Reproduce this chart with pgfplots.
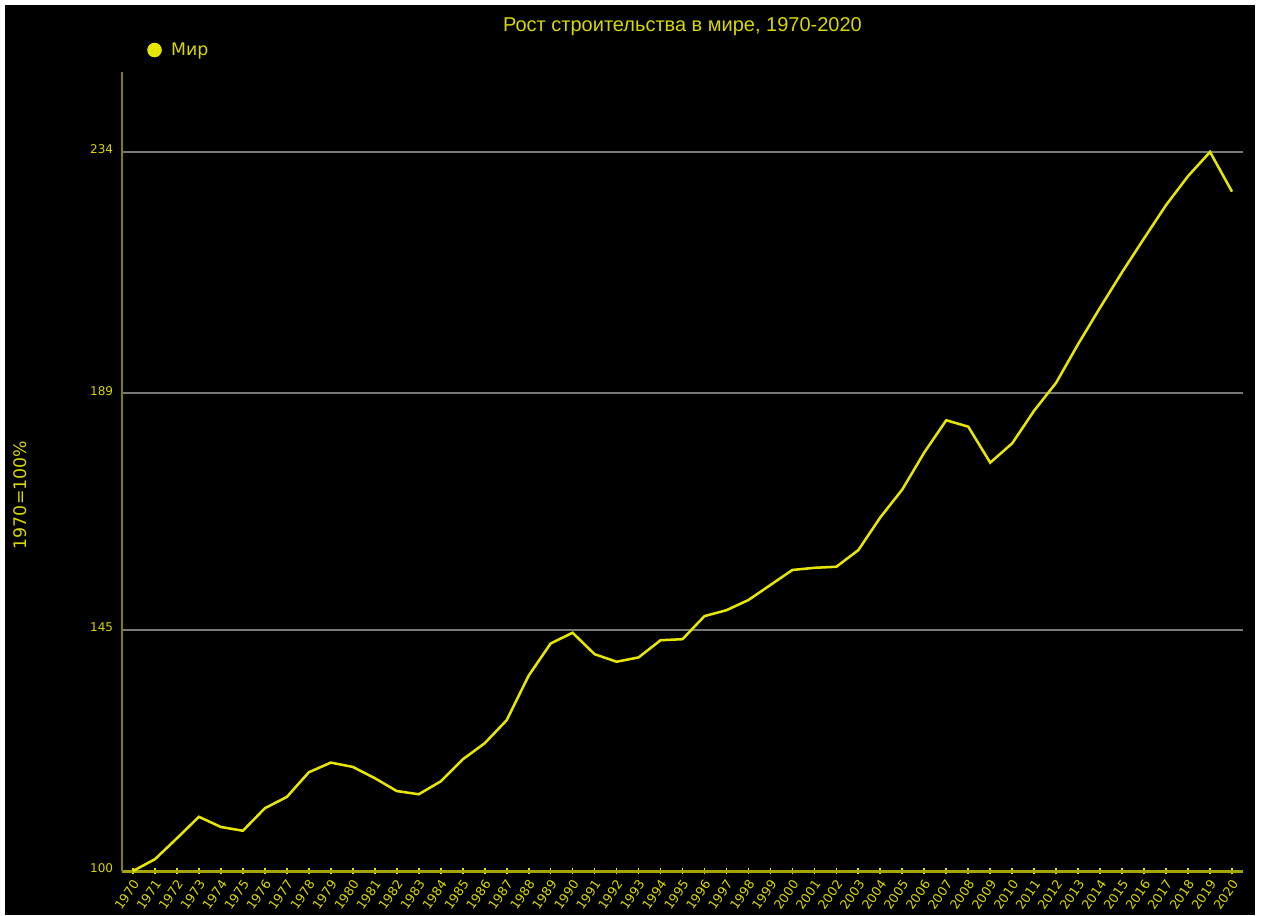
\documentclass[border=0pt]{standalone}
\usepackage{fontspec}
\setmainfont{DejaVu Sans}
\newfontfamily\titlefont{Liberation Sans}
\usepackage{pgfplots}
\pgfplotsset{compat=1.18}
\definecolor{yel}{RGB}{230,230,0}
\definecolor{txt}{RGB}{215,215,0}
\definecolor{yax}{RGB}{128,128,0}
\definecolor{xax}{RGB}{165,165,0}
\definecolor{grd}{RGB}{120,120,120}
\begin{document}
\begin{tikzpicture}
\useasboundingbox (0,0) rectangle (945.75pt,686.25pt);
\clip (0,0) rectangle (945.75pt,686.25pt);
\fill[white] (0,0) rectangle (945.75pt,686.25pt);
\fill[black] (3.75pt,0) rectangle (941.25pt,682.5pt);
\begin{axis}[
  at={(91.5pt,33pt)}, anchor=south west,
  scale only axis, width=840.75pt, height=599.25pt,
  xmin=1969.5, xmax=2020.5, ymin=100, ymax=248.9,
  axis lines=left,
  x axis line style={draw=xax, line width=2.25pt, -},
  y axis line style={draw=yax, line width=2pt, -},
  xtick={1970,1971,...,2020},
  xtick style={draw=yel, line width=1.3pt},
  major tick length=5pt, tick align=center,
  ytick={145,189,234},
  extra y ticks={100},
  extra y tick style={grid=none},
  ytick style={draw=none},
  ymajorgrids, grid style={draw=grd, line width=1.5pt},
  /pgf/number format/assume math mode=true,
  /pgf/number format/1000 sep={},
  ticklabel style={font=\fontsize{9}{10}\selectfont, text=txt},
  xticklabel style={rotate=55, anchor=east, inner sep=1pt, yshift=-5pt, xshift=-2pt, font=\fontsize{9.5}{10}\selectfont},
  yticklabel style={anchor=east, inner sep=1pt, xshift=-3pt, yshift=2pt},
  title={Рост строительства в мире, 1970-2020},
  title style={at={(0.5,1)}, anchor=center, yshift=28pt, font=\titlefont\fontsize{15}{18}\selectfont, text=txt},
  ylabel={1970=100\%},
  ylabel style={at={(axis description cs:-0.091,0.4706)}, anchor=center, rotate=0, font=\fontsize{13}{15}\selectfont, text=txt},
  legend style={at={(axis description cs:0.0223,1.0275)}, anchor=west, draw=none, fill=none, inner sep=0pt, font=\fontsize{13}{15}\selectfont, text=txt,
    nodes={inner sep=0pt}, /tikz/every odd column/.style={column sep=7pt}},
  legend image code/.code={\fill[yel] (4.5pt,0pt) circle (4.5pt);},
  clip=false,
]
\addplot[yel, line width=1.9pt] coordinates {
(1970,100.0) (1971,102.2) (1972,106.1) (1973,110.1) (1974,108.2) (1975,107.5)
(1976,111.7) (1977,113.8) (1978,118.4) (1979,120.2) (1980,119.4) (1981,117.3)
(1982,114.9) (1983,114.3) (1984,116.7) (1985,120.8) (1986,123.8) (1987,128.1)
(1988,136.4) (1989,142.4) (1990,144.4) (1991,140.4) (1992,139.0) (1993,139.8)
(1994,143.0) (1995,143.2) (1996,147.5) (1997,148.6) (1998,150.5) (1999,153.3)
(2000,156.1) (2001,156.5) (2002,156.7) (2003,159.8) (2004,165.9) (2005,171.1)
(2006,178.0) (2007,184.0) (2008,182.8) (2009,176.1) (2010,179.7) (2011,185.8)
(2012,191.0) (2013,198.2) (2014,205.0) (2015,211.6) (2016,217.9) (2017,224.1)
(2018,229.5) (2019,234.0) (2020,226.6)
};
\addlegendentry{Мир}
\end{axis}
\end{tikzpicture}
\end{document}
